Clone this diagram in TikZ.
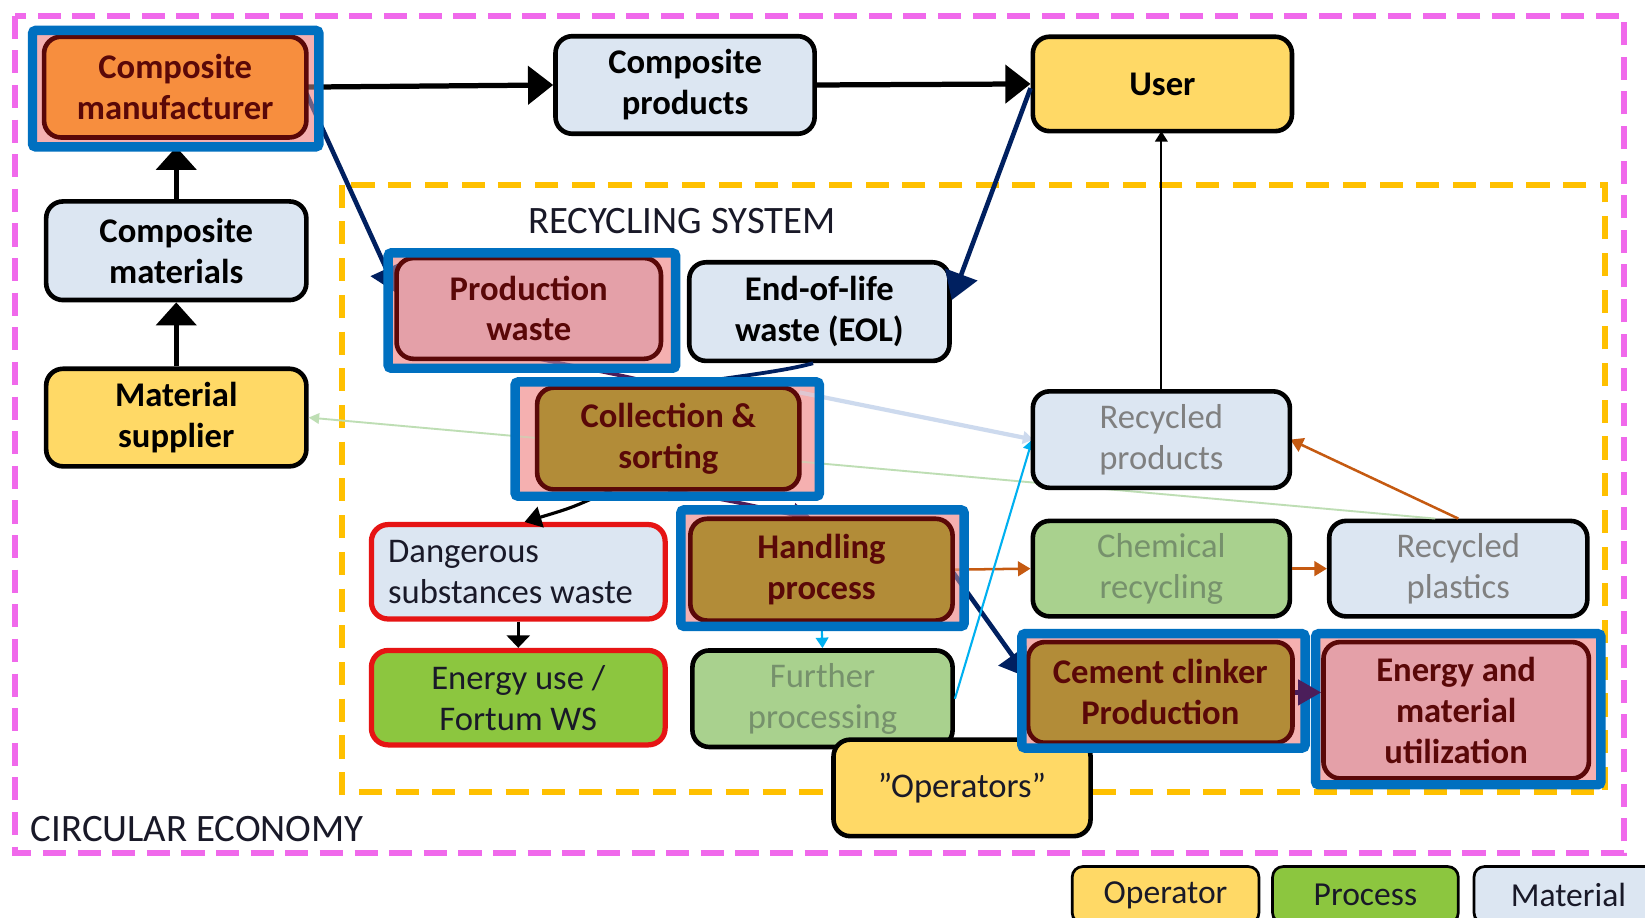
\documentclass[tikz,border=0pt]{standalone}
\usepackage{fontspec}
\setmainfont{Carlito}
\usetikzlibrary{arrows.meta}
\definecolor{pinkdash}{RGB}{240,105,235}
\definecolor{orgdash}{RGB}{255,192,0}
\definecolor{hlblue}{RGB}{0,112,192}
\definecolor{pinkhl}{RGB}{245,176,176}
\definecolor{orgfill}{RGB}{247,142,62}
\definecolor{dred}{RGB}{90,8,8}
\definecolor{pinkfill}{RGB}{228,160,168}
\definecolor{brownfill}{RGB}{178,140,56}
\definecolor{lblue}{RGB}{220,230,242}
\definecolor{yel}{RGB}{255,217,102}
\definecolor{lgreen}{RGB}{169,209,142}
\definecolor{gfill}{RGB}{140,198,63}
\definecolor{redb}{RGB}{230,20,20}
\definecolor{navyc}{RGB}{0,32,96}
\definecolor{purpc}{RGB}{75,30,90}
\definecolor{orgarr}{RGB}{197,90,17}
\definecolor{cyanarr}{RGB}{0,176,240}
\definecolor{lgline}{RGB}{190,222,180}
\definecolor{pbline}{RGB}{205,218,238}
\definecolor{gtext}{RGB}{128,128,128}
\definecolor{ggtext}{RGB}{118,145,108}
\definecolor{darktext}{RGB}{25,25,40}
\begin{document}
\begin{tikzpicture}[x=0.5pt,y=-0.5pt,
 nbase/.style={rounded corners=8pt, line width=2.2pt, align=center, inner sep=1pt, font=\fontsize{16.5pt}{19.5pt}\selectfont\bfseries},
 matbox/.style={nbase, draw=black, fill=lblue},
 opbox/.style={nbase, draw=black, fill=yel},
 hlbox/.style={nbase, draw=dred, text=dred},
 softbox/.style={nbase, draw=black, font=\fontsize{16.5pt}{19.5pt}\selectfont},
 redbox/.style={nbase, draw=redb, line width=2.5pt, text=darktext, font=\fontsize{16.5pt}{19.5pt}\selectfont},
 hlzone/.style={fill=pinkhl, outer sep=0pt, inner sep=0pt},
 hlframe/.style={draw=hlblue, line width=4.5pt, rounded corners=1.5pt},
 legbox/.style={rounded corners=5pt, draw=black, line width=1.3pt, font=\fontsize{16pt}{19pt}\selectfont, inner sep=0pt, text=darktext},
 bigarrow/.style={draw=black, line width=2.5pt, -{Triangle[length=12pt,width=18pt]}},
 vertarrow/.style={draw=black, line width=2.6pt, -{Triangle[length=11pt,width=19pt]}},
 navyarrow/.style={draw=navyc, line width=2.2pt, -{Triangle[length=13pt,width=16pt]}},
 purparrow/.style={draw=purpc, line width=1.8pt, -{Triangle[length=10pt,width=11pt]}},
 purpline/.style={draw=purpc, line width=1.8pt},
 navyline/.style={draw=navyc, line width=1.8pt},
 blkarrow/.style={draw=black, line width=1.5pt, -{Triangle[length=8pt,width=10pt]}},
 shortarrow/.style={draw=black, line width=1.5pt, -{Triangle[length=6pt,width=11pt]}},
 orgarrow/.style={draw=orgarr, line width=1.2pt, -{Triangle[length=6pt,width=7pt]}},
 cyanarrow/.style={draw=cyanarr, line width=1pt, -{Triangle[length=5pt,width=6pt]}},
 thinarrow/.style={draw=black, line width=1pt, -{Triangle[length=5pt,width=6pt]}},
 greenarrow/.style={draw=lgline, line width=0.9pt, -{Triangle[length=5pt,width=5pt]}},
 palearrow/.style={draw=pbline, line width=2pt, -{Triangle[length=5pt,width=6pt]}}
]
\useasboundingbox (0,0) rectangle (1568,875);
\fill[white] (0,0) rectangle (1568,875);

% system borders
\draw[pinkdash, line width=3pt, dash pattern=on 11pt off 5.5pt] (14,15) rectangle (1548,813);
\draw[orgdash, line width=3pt, dash pattern=on 11pt off 6.5pt] (326,176) rectangle (1530,755);
\node[font=\fontsize{18.5pt}{22pt}\selectfont, text=darktext, inner sep=0pt] (rslabel) at (650,211) {RECYCLING SYSTEM};
\node[font=\fontsize{18.5pt}{22pt}\selectfont, text=darktext, inner sep=0pt, anchor=west] (celabel) at (29,790) {CIRCULAR ECONOMY};

% nodes that lie under others
\node[softbox, fill=lgreen, text=ggtext, minimum width=124pt, minimum height=46pt] (fp) at (784,666) {Further\\processing};
\node[opbox, font=\fontsize{16.5pt}{19.5pt}\selectfont, text=darktext, minimum width=122.5pt, minimum height=46pt] (ops) at (917,751) {”Operators”};

% highlight zones
\node[hlzone, minimum width=136.5pt, minimum height=55.5pt] (cmf) at (167.5,84.5) {};
\node[hlzone, minimum width=137pt, minimum height=55pt] (pwf) at (507,296) {};
\node[hlzone, minimum width=145pt, minimum height=54.5pt] (csf) at (636,418.5) {};
\node[hlzone, minimum width=135pt, minimum height=55.5pt] (hpf) at (784,541.5) {};
\node[hlzone, minimum width=135pt, minimum height=54.5pt] (ccf) at (1109,658.5) {};
\node[hlzone, minimum width=136pt, minimum height=72pt] (emuf) at (1390,676) {};

% plain nodes
\node[matbox, minimum width=123.5pt, minimum height=46.5pt] (cp) at (653,81) {Composite\\products};
\node[opbox, minimum width=123.5pt, minimum height=45pt] (user) at (1108,80) {User};
\node[matbox, minimum width=124pt, minimum height=47pt] (cmat) at (168,239) {Composite\\materials};
\node[opbox, minimum width=124pt, minimum height=46.5pt] (ms) at (168,398) {Material\\supplier};
\node[matbox, minimum width=124pt, minimum height=47pt] (eol) at (781,297) {End-of-life\\waste (EOL)};
\node[redbox, fill=lblue, minimum width=140pt, minimum height=45pt, text width=124pt, align=flush left] (dsw) at (494,545) {Dangerous\\substances waste};
\node[softbox, fill=lgreen, text=ggtext, minimum width=122.5pt, minimum height=45.5pt] (cr) at (1107,542) {Chemical\\recycling};
\node[softbox, fill=lblue, text=gtext, minimum width=123pt, minimum height=45.5pt] (rpl) at (1390,542) {Recycled\\plastics};
\node[redbox, fill=gfill, minimum width=140pt, minimum height=45pt] (eu) at (494,665) {Energy use /\\Fortum WS};

% connectors
\draw[greenarrow] ([xshift=-11pt]rpl.north) -- (ms.east);
\draw[palearrow] (762,374) -- (985,419);
\draw[bigarrow] (292,83) -- (cp.west);
\draw[bigarrow] (cp.east) -- (user.west);
\draw[vertarrow] (cmat.north) -- (cmat.north |- cmf.south);
\draw[vertarrow] (ms.north) -- (cmat.south);
\draw[navyarrow] (292,89) -- (379,280);
\draw[navyarrow] ([yshift=-2pt]user.west) -- ([yshift=5.5pt]eol.east);
\draw[purpline] (504,340) .. controls (560,352) and (610,360) .. (637,370);
\draw[navyline] ([xshift=-3pt]eol.south) .. controls (740,356) and (670,362) .. (637,370);
\draw[blkarrow] (583,467) .. controls (545,484) .. ([xshift=3pt]dsw.north);
\draw[purparrow] (637,467) .. controls (700,478) .. (775,495);
\draw[shortarrow] (dsw.south) -- (eu.north);
\draw[cyanarrow] (783,592) -- (fp.north);
\draw[orgarrow] (908,543) -- (cr.west);
\draw[orgarrow] (cr.east) -- (rpl.west);
\draw[orgarrow] (rpl.north) -- (1230,419);
\draw[navyarrow] (908,545) -- (980,646);
\draw[cyanarrow] (fp.east) -- (984,419);
\draw[thinarrow] (1107,373) -- (1107,125);

% translucent overlay on highlight zones
\foreach \z in {cmf,pwf,csf,hpf,ccf,emuf}{
  \fill[pinkhl, opacity=0.45] (\z.north west) rectangle (\z.south east);
}

% highlighted nodes
\node[hlbox, fill=orgfill, minimum width=125pt, minimum height=48pt] (cm) at (167,83) {Composite\\manufacturer};
\node[hlbox, fill=pinkfill, minimum width=126pt, minimum height=48pt] (pw) at (504,294) {Production\\waste};
\node[hlbox, fill=brownfill, minimum width=125pt, minimum height=48.5pt] (cs) at (637,418) {Collection \&\\sorting};
\node[hlbox, fill=brownfill, minimum width=125pt, minimum height=48.5pt] (hp) at (783,543) {Handling\\process};
\node[hlbox, fill=brownfill, minimum width=126pt, minimum height=48pt] (cc) at (1106,660) {Cement clinker\\Production};
\node[hlbox, fill=pinkfill, minimum width=126.5pt, minimum height=65pt] (emu) at (1388,677) {Energy and\\material\\utilization};
\node[softbox, fill=lblue, text=gtext, minimum width=122.5pt, minimum height=46pt] (rp) at (1107,419) {Recycled\\products};

% blue frames
\foreach \z in {cmf,pwf,csf,hpf,ccf,emuf}{
  \draw[hlframe] (\z.north west) rectangle (\z.south east);
}
\draw[purpc, line width=2pt, -{Triangle[length=11pt,width=12pt]}] (cc.east) -- (cc.east -| emu.west);

% legend
\node[legbox, fill=yel, minimum width=89pt, minimum height=27pt] (lop) at (1111,853) {Operator};
\node[legbox, fill=gfill, minimum width=88.5pt, minimum height=27pt] (lpr) at (1301.5,853) {Process};
\node[legbox, fill=lblue, minimum width=90pt, minimum height=27pt] (lma) at (1495,853) {Material};
\end{tikzpicture}
\end{document}
